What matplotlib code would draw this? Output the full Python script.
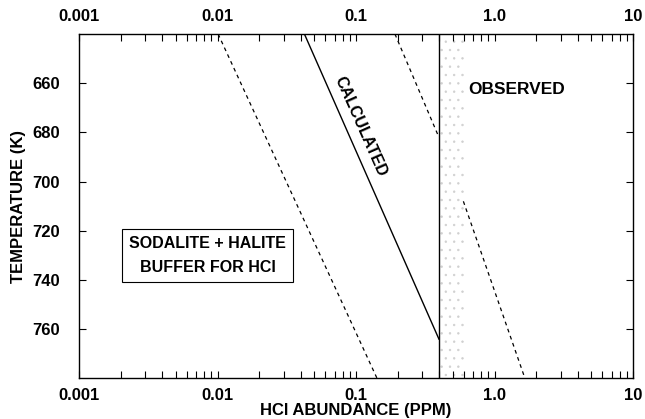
import matplotlib
matplotlib.use("Agg")
import matplotlib.pyplot as plt
from matplotlib.ticker import FixedLocator, LogLocator, NullFormatter

plt.rcParams['font.family'] = ['Liberation Sans', 'DejaVu Sans']
plt.rcParams['font.weight'] = 'bold'
plt.rcParams['hatch.linewidth'] = 0.5

# calculated buffer line (HCl ppm vs temperature K)
calc_x = [0.0424, 0.397]
calc_t = [640, 764]
# dashed uncertainty bounds
low_x = [0.0101, 0.142]
low_t = [640, 780]
upper_x = [0.191, 0.397]
upper_t = [640, 682]
lower_x = [0.596, 1.66]
lower_t = [708, 780]
# observed band
obs_lo = 0.397
obs_hi = 0.60

xticks = [0.001, 0.01, 0.1, 1.0, 10]
xlabels = ['0.001', '0.01', '0.1', '1.0', '10']
yticks = [660, 680, 700, 720, 740, 760]

fig = plt.figure(figsize=(6.45, 4.19), dpi=100)
ax = fig.add_axes([0.1225, 0.0967, 0.8589, 0.8222])

ax.fill_betweenx([640, 780], obs_lo, obs_hi, facecolor='none',
                 edgecolor='#d0d0d0', hatch='..', linewidth=0)
ax.axvline(obs_lo, color='black', lw=1.0)

ax.plot(calc_x, calc_t, color='black', lw=1.0)
dash = (0, (3, 3))
ax.plot(low_x, low_t, color='black', lw=0.9, linestyle=dash)
ax.plot(upper_x, upper_t, color='black', lw=0.9, linestyle=dash)
ax.plot(lower_x, lower_t, color='black', lw=0.9, linestyle=dash)

ax.set_xscale('log')
ax.set_xlim(0.001, 10)
ax.set_ylim(780, 640)

ax.xaxis.set_major_locator(FixedLocator(xticks))
ax.set_xticklabels(xlabels)
ax.xaxis.set_minor_locator(LogLocator(base=10, subs=range(2, 10)))
ax.xaxis.set_minor_formatter(NullFormatter())
ax.set_yticks(yticks)

ax.tick_params(axis='both', which='both', direction='in', length=5, width=0.8,
               top=True, right=True, labeltop=True, labelsize=12)
ax.tick_params(axis='x', pad=7)
ax.tick_params(axis='y', pad=14)
for lab in ax.get_xticklabels() + ax.get_yticklabels():
    lab.set_fontweight('bold')

ax.set_xlabel('HCl ABUNDANCE (PPM)', fontsize=12, fontweight='bold', labelpad=0)
ax.set_ylabel('TEMPERATURE (K)', fontsize=12, fontweight='bold', labelpad=4)

ax.text(0.108, 677.7, 'CALCULATED', rotation=-66, ha='center', va='center',
        fontsize=11.5, fontweight='bold', rotation_mode='anchor')
ax.text(0.645, 662.7, 'OBSERVED', ha='left', va='center',
        fontsize=12.5, fontweight='bold')
ax.text(0.00848, 729.9, 'SODALITE + HALITE\nBUFFER FOR HCl', ha='center',
        va='center', fontsize=11.5, fontweight='bold', linespacing=1.75,
        bbox=dict(boxstyle='square,pad=0.45', facecolor='white',
                  edgecolor='black', linewidth=0.8))

for s in ax.spines.values():
    s.set_linewidth(1.0)

fig.savefig('out.png', dpi=100)
